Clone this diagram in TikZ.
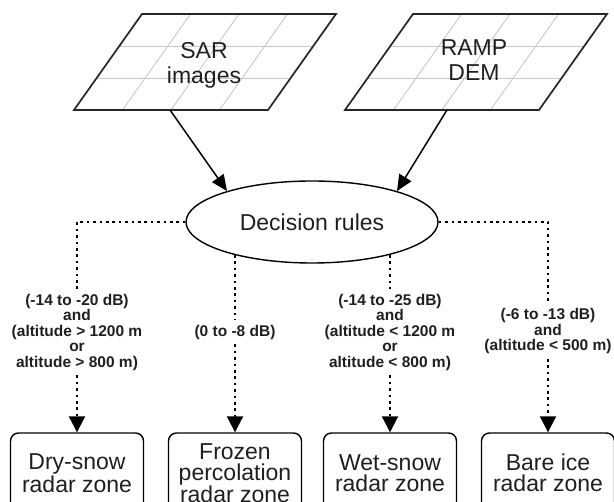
\documentclass[tikz,border=0pt]{standalone}
\usepackage{fontspec}
\setmainfont{Liberation Sans}
\usetikzlibrary{shapes.geometric,arrows.meta}
\tikzset{
  gridline/.style={draw=black!22, line width=0.9pt},
  paraline/.style={draw=black!85, line width=1.7pt, line join=miter},
  paratext/.style={align=center, font=\fontsize{23}{25}\selectfont, inner sep=0pt, text=black!88},
  decnode/.style={ellipse, draw, line width=1.4pt, minimum width=252pt, minimum height=82pt, inner sep=0pt, font=\fontsize{23}{25}\selectfont, text=black!88},
  solidarrow/.style={line width=1.5pt, -{Triangle[length=16pt,width=14pt]}},
  dots/.style={line width=2pt, dash pattern=on 2.6pt off 3.8pt},
  dotarrow/.style={dots, -{Triangle[length=16pt,width=16pt]}},
  lab/.style={align=center, font=\bfseries\fontsize{15.5}{15.5}\selectfont, inner sep=5pt, text=black!88},
  zone/.style={draw, rounded corners=8pt, line width=1.4pt, minimum width=133pt, minimum height=80pt, align=center, inner sep=0pt, font=\fontsize{23}{21}\selectfont, text=black!88},
  pics/gridpara/.style={code={
    \foreach \k in {1,2,3} \draw[gridline] ({48.5*\k},0) -- ({68+48.5*\k},-96);
    \foreach \j in {1,2} \draw[gridline] ({68*\j/3},{-32*\j}) -- ({194+68*\j/3},{-32*\j});
    \draw[paraline] (0,0) -- (68,-96) -- (262,-96) -- (194,0) -- cycle;
  }}
}
\begin{document}
\begin{tikzpicture}[x=1pt,y=-1pt]
\useasboundingbox (0,0) rectangle (614,502);
\clip (0,0) rectangle (614,502);
% input parallelograms
\pic at (74,110) {gridpara};
\pic at (345,110) {gridpara};
\node[paratext] (sar) at (204,65) {SAR\\images};
\node[paratext] (ramp) at (474,60) {RAMP\\DEM};
\coordinate (sarb) at (170,110);
\coordinate (rampb) at (447,110);
% decision
\node[decnode] (dec) at (312,222) {Decision rules};
\draw[solidarrow] (sarb) -- (dec.160);
\draw[solidarrow] (rampb) -- (dec.20);
% labels
\node[lab] (l1) at (77,332) {(-14 to -20 dB)\\and\\(altitude > 1200 m\\or\\altitude > 800 m)};
\node[lab] (l2) at (235,332) {(0 to -8 dB)};
\node[lab] (l3) at (390,332) {(-14 to -25 dB)\\and\\(altitude < 1200 m\\or\\altitude < 800 m)};
\node[lab] (l4) at (548,331) {(-6 to -13 dB)\\and\\(altitude < 500 m)};
% zones
\node[zone] (z1) at (77,473) {Dry-snow\\radar zone};
\node[zone] (z2) at (235,473) {Frozen\\percolation\\radar zone};
\node[zone] (z3) at (390,473) {Wet-snow\\radar zone};
\node[zone] (z4) at (548,473) {Bare ice\\radar zone};
% dotted connectors
\draw[dots] (dec.west) -| (l1.north);
\draw[dots] (dec.east) -| (l4.north);
\draw[dots] (l2.north |- dec.203) -- (l2.north);
\draw[dots] (l3.north |- dec.-23) -- (l3.north);
\draw[dotarrow] (l1.south) -- (z1.north);
\draw[dotarrow] (l2.south) -- (z2.north);
\draw[dotarrow] (l3.south) -- (z3.north);
\draw[dotarrow] (l4.south) -- (z4.north);
\end{tikzpicture}
\end{document}
